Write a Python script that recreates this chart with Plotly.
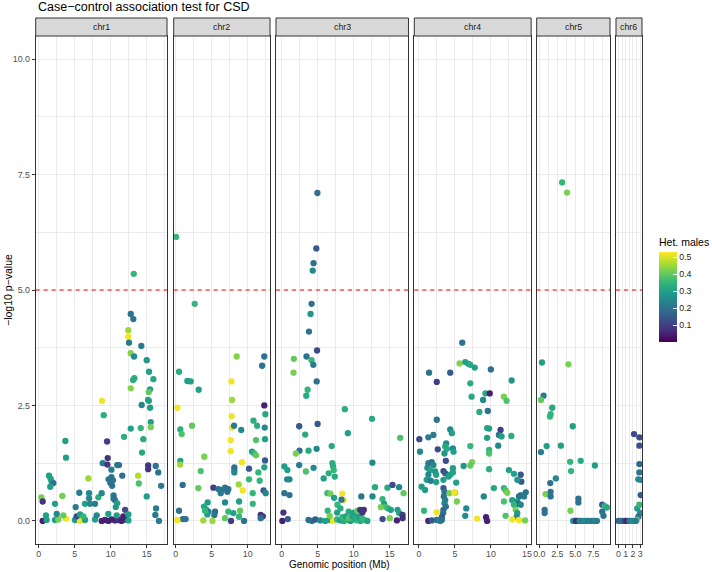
import plotly.graph_objects as go

# ---------------- data ----------------
chromosomes = ["chr1", "chr2", "chr3", "chr4", "chr5", "chr6"]

chr1_pos = [13.2, 12.78, 13.14, 12.44, 12.44, 12.54, 14.25, 12.78, 13.24, 15.0, 15.32, 15.92, 13.28, 13.1,
            12.78, 15.46, 15.28, 15.18, 15.3, 8.79, 14.3, 15.46, 9.03, 15.56, 12.78, 14.17, 15.56, 11.85,
            14.53, 3.7, 9.49, 14.35, 3.79, 9.58, 8.89, 9.53, 10.9, 11.15, 15.2, 15.2, 16.25, 16.6, 10.1,
            11.6, 13.8, 1.43, 1.66, 1.8, 2.03, 1.6, 6.9, 10.1, 10.3, 9.95, 10.2, 9.7, 13.9, 17.0, 0.37,
            0.55, 2.26, 3.28, 5.64, 6.99, 6.99, 8.28, 8.75, 6.43, 7.13, 7.82, 5.13, 10.4, 10.6, 10.9, 10.7,
            10.4, 12.0, 16.3, 16.2, 16.7, 15.0,
            0.55, 1.1, 2.26, 2.73, 3.79, 5.04, 5.74, 6.43, 7.82, 8.75, 9.2, 9.67, 10.13, 10.6, 11.06, 11.5,
            12.0, 12.45,
            1.0, 2.5, 3.42, 5.27, 5.74, 6.2, 8.05, 9.67, 10.83, 11.75, 12.45]
chr1_logp = [5.35, 4.48, 4.37, 4.13, 3.99, 3.86, 3.79, 3.63, 3.56, 3.48, 3.23, 3.07, 3.09, 3.05,
             2.87, 2.85, 2.79, 2.62, 2.6, 2.6, 2.51, 2.45, 2.29, 2.14, 2.0, 2.01, 2.03, 1.82,
             1.77, 1.73, 1.72, 1.48, 1.37, 1.36, 1.25, 1.22, 1.21, 1.21, 1.2, 1.12, 1.19, 1.05, 1.11,
             0.98, 0.98, 0.98, 0.91, 0.85, 0.82, 0.74, 0.92, 0.95, 0.88, 0.82, 0.76, 0.9, 0.81, 0.76, 0.51,
             0.42, 0.37, 0.54, 0.61, 0.6, 0.49, 0.51, 0.6, 0.37, 0.37, 0.37, 0.3, 0.55, 0.45, 0.38, 0.3,
             0.48, 0.24, 0.27, 0.13, 0.0, 0.53,
             0.0, 0.02, 0.02, 0.03, 0.05, 0.02, 0.0, 0.02, 0.03, 0.0, 0.02, 0.0, 0.03, 0.01, 0.02, 0.0,
             0.03, 0.01,
             0.12, 0.15, 0.12, 0.1, 0.14, 0.1, 0.12, 0.15, 0.12, 0.1, 0.14]
chr1_het = [0.35, 0.2, 0.2, 0.45, 0.52, 0.22, 0.22, 0.43, 0.25, 0.28, 0.3, 0.32, 0.33, 0.33,
            0.43, 0.3, 0.4, 0.3, 0.3, 0.52, 0.25, 0.3, 0.33, 0.3, 0.3, 0.35, 0.42, 0.33,
            0.32, 0.3, 0.1, 0.32, 0.3, 0.08, 0.22, 0.08, 0.2, 0.2, 0.08, 0.08, 0.2, 0.2, 0.22,
            0.2, 0.47, 0.3, 0.3, 0.3, 0.2, 0.3, 0.45, 0.2, 0.2, 0.2, 0.2, 0.2, 0.38, 0.22, 0.42,
            0.08, 0.3, 0.42, 0.22, 0.25, 0.25, 0.33, 0.25, 0.3, 0.25, 0.22, 0.22, 0.22, 0.25, 0.3, 0.28,
            0.2, 0.12, 0.22, 0.22, 0.22, 0.3,
            0.05, 0.3, 0.3, 0.42, 0.52, 0.28, 0.52, 0.3, 0.3, 0.05, 0.05, 0.05, 0.05, 0.05, 0.08, 0.05,
            0.05, 0.3,
            0.3, 0.25, 0.4, 0.12, 0.3, 0.35, 0.25, 0.3, 0.3, 0.05, 0.3]

chr2_pos = [0.04, 2.64, 8.47, 12.3, 12.0, 0.46, 1.62, 2.08, 7.73, 3.19, 7.82, 0.23, 12.3, 12.45, 7.77,
            10.8, 0.64, 2.26, 0.83, 7.82, 8.1, 9.1, 11.3, 12.36, 7.63, 11.15, 12.4, 7.63, 10.6, 10.9,
            11.15, 12.4, 3.97, 0.64, 0.6, 9.2, 12.3, 3.47, 8.14, 8.14, 8.14, 10.18, 11.48, 10.18, 11.66,
            8.75, 0.97, 3.14, 5.23, 5.92, 6.38, 6.85, 7.31, 6.25, 7.17, 9.3, 10.7, 12.2, 12.5, 6.85, 8.8,
            10.7, 4.44, 3.93, 4.2, 4.53, 5.46, 5.37, 4.39, 4.07, 7.31, 8.0, 8.93, 8.79, 7.68, 9.49, 6.85,
            0.46, 0.97, 1.38, 0.23, 3.83, 5.1, 11.8, 12.1, 11.8]
chr2_logp = [6.15, 4.7, 3.56, 3.56, 3.36, 3.23, 3.03, 3.02, 3.02, 2.84, 2.62, 2.45, 2.5, 2.31, 2.27,
             2.17, 1.98, 2.06, 1.88, 2.02, 2.06, 1.97, 2.06, 2.02, 1.75, 1.75, 1.77, 1.51, 1.5, 1.46,
             1.42, 1.31, 1.39, 1.3, 1.22, 1.27, 1.16, 1.08, 1.16, 1.1, 1.05, 1.13, 1.05, 0.9, 0.87,
             0.79, 0.78, 0.71, 0.72, 0.69, 0.67, 0.72, 0.69, 0.6, 0.63, 0.66, 0.6, 0.66, 0.6, 0.4, 0.42,
             0.37, 0.4, 0.31, 0.25, 0.2, 0.2, 0.13, 0.14, 0.22, 0.2, 0.17, 0.22, 0.09, 0.0, 0.0, 0.06,
             0.22, 0.04, 0.04, 0.02, 0.01, 0.0, 0.13, 0.1, 0.06]
chr2_het = [0.35, 0.35, 0.43, 0.2, 0.2, 0.33, 0.3, 0.3, 0.52, 0.3, 0.45, 0.52, 0.05, 0.32, 0.52,
            0.33, 0.33, 0.4, 0.38, 0.52, 0.22, 0.25, 0.33, 0.25, 0.52, 0.38, 0.3, 0.52, 0.3, 0.35,
            0.4, 0.15, 0.42, 0.3, 0.45, 0.52, 0.3, 0.38, 0.2, 0.2, 0.25, 0.15, 0.35, 0.35, 0.35,
            0.45, 0.2, 0.4, 0.1, 0.2, 0.22, 0.2, 0.2, 0.22, 0.2, 0.52, 0.35, 0.15, 0.25, 0.25, 0.3,
            0.35, 0.3, 0.32, 0.3, 0.22, 0.18, 0.2, 0.3, 0.35, 0.35, 0.3, 0.4, 0.35, 0.1, 0.2, 0.4,
            0.2, 0.2, 0.2, 0.52, 0.45, 0.45, 0.08, 0.1, 0.2]

chr3_pos = [4.95, 4.8, 4.42, 4.3, 4.14, 4.0, 3.78, 4.9, 1.68, 3.44, 4.14, 4.38, 1.63, 4.85, 3.59, 3.4,
            8.76, 12.53, 2.42, 4.98, 9.18, 3.26, 16.45, 6.94, 2.46, 3.72, 4.84, 1.96, 2.42, 0.36, 0.78,
            4.42, 3.35, 7.03, 7.13, 7.22, 7.36, 6.52, 5.82, 12.59, 0.74, 1.07, 6.34, 6.76, 8.4, 8.58,
            8.3, 7.27, 0.36, 1.07, 11.05, 12.6, 12.95, 14.68, 15.38, 16.3, 16.92, 13.99, 14.22, 14.45,
            14.77, 15.15, 13.75, 16.08, 16.31, 15.0, 15.99, 16.78, 16.78, 7.73, 8.15, 7.69,
            3.72, 4.19, 4.66, 5.35, 6.05, 6.66, 7.13, 7.69, 8.15, 8.62, 9.09, 9.55, 10.02, 10.48, 10.95,
            11.41, 11.88, 8.4, 8.9, 9.3, 9.8, 10.2, 10.7, 11.2, 9.3, 10.0, 10.5,
            6.38, 6.66, 10.9, 11.4, 11.2, 0.23, 0.08, 0.84, 14.0]
chr3_logp = [7.1, 5.9, 5.58, 5.42, 4.7, 4.48, 4.1, 3.69, 3.51, 3.56, 3.48, 3.38, 3.21, 3.02, 2.84, 2.71,
             2.42, 2.21, 2.05, 2.1, 1.9, 1.87, 1.8, 1.62, 1.52, 1.52, 1.56, 1.46, 1.21, 1.18, 1.1,
             1.15, 1.07, 1.25, 1.18, 1.1, 0.96, 1.03, 0.92, 1.26, 0.9, 0.9, 0.6, 0.59, 0.59, 0.45,
             0.46, 0.5, 0.6, 0.56, 0.53, 0.53, 0.73, 0.72, 0.78, 0.73, 0.6, 0.47, 0.37, 0.3,
             0.27, 0.24, 0.3, 0.24, 0.17, 0.06, 0.01, 0.13, 0.06, 0.35, 0.27, 0.18,
             0.02, 0.0, 0.03, 0.01, 0.0, 0.02, 0.0, 0.03, 0.01, 0.0, 0.02, 0.0, 0.03, 0.01, 0.0,
             0.02, 0.0, 0.08, 0.1, 0.06, 0.1, 0.07, 0.1, 0.05, 0.2, 0.18, 0.22,
             0.22, 0.11, 0.24, 0.24, 0.18, 0.18, 0.0, 0.04, 0.04]
chr3_het = [0.2, 0.15, 0.2, 0.25, 0.2, 0.28, 0.2, 0.12, 0.4, 0.2, 0.35, 0.22, 0.42, 0.2, 0.35, 0.32,
            0.33, 0.32, 0.15, 0.15, 0.3, 0.32, 0.38, 0.32, 0.2, 0.32, 0.25, 0.42, 0.22, 0.3, 0.3,
            0.25, 0.38, 0.33, 0.33, 0.35, 0.32, 0.33, 0.3, 0.25, 0.25, 0.25, 0.35, 0.42, 0.52, 0.52,
            0.2, 0.3, 0.2, 0.2, 0.2, 0.25, 0.32, 0.32, 0.12, 0.25, 0.4, 0.35, 0.3, 0.38,
            0.35, 0.3, 0.42, 0.3, 0.3, 0.42, 0.05, 0.1, 0.08, 0.35, 0.33, 0.3,
            0.2, 0.2, 0.15, 0.25, 0.3, 0.3, 0.52, 0.35, 0.3, 0.32, 0.35, 0.3, 0.33, 0.35, 0.32,
            0.35, 0.3, 0.35, 0.3, 0.38, 0.3, 0.32, 0.3, 0.35, 0.32, 0.3, 0.4,
            0.35, 0.42, 0.08, 0.08, 0.08, 0.08, 0.05, 0.15, 0.12]

chr4_pos = [6.01, 5.64, 6.43, 6.9, 7.13, 7.74, 1.4, 4.34, 9.98, 2.47, 12.87, 7.13, 9.23, 9.83, 7.31, 8.9,
            11.79, 12.17, 8.39, 9.56, 2.47, 9.46, 9.74, 11.33, 11.1, 11.47, 0.05, 1.3, 2.0, 4.34, 4.57,
            12.82, 9.46, 3.78, 3.64, 3.87, 3.54, 4.71, 4.8, 2.61, 7.13, 11.0, 0.14, 9.74, 9.74, 3.73,
            7.37, 7.13, 6.2, 1.31, 1.77, 2.0, 1.17, 1.54, 2.24, 1.31, 1.07, 1.63, 2.38, 2.38,
            3.4, 3.64, 4.34, 4.71, 4.71, 3.4, 4.1, 9.74, 12.49, 13.19, 14.13, 14.22, 13.66, 5.17, 10.4,
            11.79, 12.03, 12.27, 14.83, 14.13, 13.89, 12.96, 13.66, 14.59, 13.75, 0.7, 0.37, 0.84,
            3.4, 3.54, 3.45, 3.64, 3.54, 3.73, 3.4, 3.36, 3.17, 4.24, 5.03, 5.27, 4.9, 6.57, 6.43, 9.0,
            11.8, 12.03, 13.19, 13.43, 13.66, 13.57, 14.13,
            1.3, 1.77, 2.47, 2.94, 3.17, 8.07, 9.32, 9.46, 12.96, 13.89, 14.73, 2.47]
chr4_logp = [3.86, 3.41, 3.44, 3.4, 3.38, 3.32, 3.21, 3.21, 3.28, 3.01, 3.04, 2.98, 2.76, 2.76, 2.69, 2.62,
             2.69, 2.6, 2.36, 2.38, 2.19, 2.01, 2.0, 1.97, 1.86, 1.83, 1.77, 1.81, 1.86, 1.98, 1.9,
             1.84, 1.8, 1.68, 1.61, 1.56, 1.46, 1.57, 1.5, 1.55, 1.62, 1.63, 1.5, 1.54, 1.46, 1.3,
             1.27, 1.2, 1.19, 1.25, 1.27, 1.21, 1.15, 1.1, 1.07, 1.0, 0.89, 0.87, 1.0, 0.84,
             1.08, 1.03, 1.0, 1.14, 1.05, 0.89, 0.96, 1.12, 1.1, 1.02, 1.0, 0.85, 0.89, 0.83, 0.71,
             0.71, 0.66, 0.61, 0.62, 0.56, 0.53, 0.45, 0.42, 0.53, 0.37, 0.22, 0.74, 0.67,
             0.71, 0.63, 0.53, 0.45, 0.38, 0.31, 0.24, 0.17, 0.08, 0.6, 0.61, 0.42, 0.62, 0.27, 0.11, 0.53,
             0.42, 0.11, 0.35, 0.24, 0.17, 0.09, 0.35,
             0.0, 0.01, 0.02, 0.0, 0.02, 0.05, 0.08, 0.0, 0.03, 0.02, 0.01, 0.19]
chr4_het = [0.2, 0.43, 0.3, 0.3, 0.32, 0.3, 0.2, 0.15, 0.2, 0.1, 0.28, 0.33, 0.32, 0.05, 0.32, 0.25,
            0.42, 0.38, 0.32, 0.2, 0.2, 0.32, 0.3, 0.1, 0.2, 0.3, 0.12, 0.22, 0.22, 0.25, 0.3,
            0.33, 0.3, 0.25, 0.32, 0.32, 0.28, 0.25, 0.3, 0.12, 0.35, 0.25, 0.25, 0.35, 0.38, 0.12,
            0.42, 0.4, 0.28, 0.22, 0.2, 0.25, 0.25, 0.3, 0.28, 0.25, 0.3, 0.22, 0.3, 0.3,
            0.12, 0.15, 0.3, 0.3, 0.3, 0.3, 0.3, 0.33, 0.3, 0.3, 0.15, 0.15, 0.28, 0.3, 0.32,
            0.35, 0.38, 0.42, 0.2, 0.25, 0.2, 0.3, 0.28, 0.22, 0.15, 0.35, 0.3, 0.3,
            0.15, 0.2, 0.2, 0.22, 0.25, 0.2, 0.18, 0.2, 0.15, 0.42, 0.45, 0.42, 0.52, 0.25, 0.25, 0.25,
            0.38, 0.38, 0.35, 0.42, 0.3, 0.25, 0.25,
            0.05, 0.15, 0.2, 0.25, 0.2, 0.52, 0.05, 0.05, 0.52, 0.52, 0.42, 0.52]

chr5_pos = [3.17, 3.86, 0.37, 4.05, 0.6, 0.23, 1.8, 1.57, 1.48, 4.65, 1.02, 3.0, 0.23, 4.28, 5.75, 4.41,
            7.72, 2.3, 1.52, 0.88, 1.57, 1.57, 0.74, 0.74, 5.43, 5.43, 4.33, 8.74, 9.1, 9.38, 8.74, 8.92,
            4.7, 4.9, 5.1, 5.4, 5.6, 5.9, 6.2, 6.5, 6.8, 7.1, 7.4, 7.7, 8.0]
chr5_logp = [7.33, 7.11, 3.43, 3.39, 2.71, 2.62, 2.45, 2.31, 2.26, 2.05, 1.62, 1.63, 1.49, 1.28, 1.3, 1.08,
             1.2, 0.92, 0.82, 0.58, 0.63, 0.53, 0.24, 0.17, 0.48, 0.4, 0.22, 0.35, 0.32, 0.29, 0.2, 0.11,
             0.0, 0.0, 0.0, 0.0, 0.0, 0.0, 0.0, 0.0, 0.0, 0.0, 0.0, 0.0, 0.0]
chr5_het = [0.35, 0.42, 0.3, 0.42, 0.22, 0.4, 0.32, 0.35, 0.35, 0.3, 0.3, 0.3, 0.22, 0.35, 0.32, 0.35,
            0.3, 0.25, 0.2, 0.42, 0.2, 0.2, 0.2, 0.2, 0.2, 0.2, 0.42, 0.15, 0.35, 0.32, 0.2, 0.2,
            0.3, 0.25, 0.08, 0.05, 0.25, 0.22, 0.25, 0.25, 0.22, 0.25, 0.2, 0.25, 0.22]

chr6_pos = [2.15, 2.9, 2.9, 2.9, 2.9, 2.75, 3.08, 3.08, 2.6, 2.9, 3.0, 2.75, 2.53,
            0.0, 0.3, 0.6, 0.9, 1.2, 1.5, 1.8, 2.1, 2.4]
chr6_logp = [1.88, 1.81, 1.63, 1.23, 1.05, 0.9, 0.89, 0.56, 0.27, 0.35, 0.17, 0.09, 0.02,
             0.0, 0.0, 0.0, 0.0, 0.0, 0.0, 0.0, 0.0, 0.0]
chr6_het = [0.12, 0.12, 0.13, 0.18, 0.2, 0.25, 0.25, 0.15, 0.3, 0.35, 0.25, 0.2, 0.42,
            0.15, 0.2, 0.2, 0.1, 0.05, 0.2, 0.25, 0.25, 0.22]

threshold = 5.0
y_ticks = [0.0, 2.5, 5.0, 7.5, 10.0]
legend_ticks = [0.1, 0.2, 0.3, 0.4, 0.5]

# ---------------- layout helpers ----------------
W, H = 712, 572
PX_PER_MB = 7.2
def fx(p): return p / W
def fy(p): return 1 - p / H

panels = [  # (left pixel, x range, major dtick, minor dtick, tick format)
    (35.7, [-0.42, 17.82], 5, 2.5, "d"),
    (173.7, [-0.28, 13.1], 5, 2.5, "d"),
    (276.0, [-0.8, 17.6], 5, 2.5, "d"),
    (414.3, [-0.65, 15.58], 5, 2.5, "d"),
    (536.7, [-0.36, 9.82], 2.5, 1.25, ".1f"),
    (616.0, [-0.35, 3.26], 1, 0.5, "d"),
]
series = [(chr1_pos, chr1_logp, chr1_het), (chr2_pos, chr2_logp, chr2_het),
          (chr3_pos, chr3_logp, chr3_het), (chr4_pos, chr4_logp, chr4_het),
          (chr5_pos, chr5_logp, chr5_het), (chr6_pos, chr6_logp, chr6_het)]

PANEL_TOP, PANEL_BOTTOM = 36, 544
STRIP_TOP = 18
FONT = "Liberation Sans"
GRID = "#EBEBEB"
BORDER = "#333333"

fig = go.Figure()
shapes, annotations = [], []
layout = {}
ydom = [fy(PANEL_BOTTOM), fy(PANEL_TOP)]

for i, (name, (left, rng, dt, mdt, fmt), (xs, ys, hs)) in enumerate(zip(chromosomes, panels, series)):
    s = "" if i == 0 else str(i + 1)
    right = left + (rng[1] - rng[0]) * PX_PER_MB
    fig.add_trace(go.Scatter(
        x=xs, y=ys, mode="markers", xaxis="x" + s, yaxis="y" + s, showlegend=False,
        marker=dict(color=hs, coloraxis="coloraxis", size=6.3, line=dict(width=0)),
        hoverinfo="skip"))
    layout["xaxis" + s] = dict(
        domain=[fx(left), fx(right)], range=rng, anchor="y" + s, automargin=False,
        dtick=dt, tick0=0, tickformat=fmt,
        showgrid=True, gridcolor=GRID, gridwidth=1,
        minor=dict(dtick=mdt, tick0=0, showgrid=True, gridcolor=GRID, gridwidth=0.5),
        zeroline=False, showline=True, mirror=True, linecolor=BORDER, linewidth=1,
        ticks="outside", ticklen=3, tickcolor=BORDER, tickwidth=1, ticklabelstandoff=-2,
        tickfont=dict(size=8.8, color="#4D4D4D", family=FONT))
    ydict = dict(
        domain=ydom, range=[-0.5, 10.5], anchor="x" + s, automargin=False,
        showgrid=True, gridcolor=GRID, gridwidth=1,
        minor=dict(dtick=1.25, tick0=0, showgrid=True, gridcolor=GRID, gridwidth=0.5),
        zeroline=False, showline=True, mirror=True, linecolor=BORDER, linewidth=1,
        tickvals=y_ticks)
    if i == 0:
        ydict.update(ticktext=[f"{v:.1f}" for v in y_ticks], ticks="outside", ticklen=3,
                     tickcolor=BORDER, tickwidth=1,
                     tickfont=dict(size=8.8, color="#4D4D4D", family=FONT))
    else:
        ydict.update(showticklabels=False, ticks="", matches="y")
    layout["yaxis" + s] = ydict

    # threshold line
    shapes.append(dict(type="line", xref=f"x{s} domain", x0=0, x1=1, yref="y" + s,
                       y0=threshold, y1=threshold, layer="above",
                       line=dict(color="#FF0000", width=1, dash="4px,4px")))
    # strip
    shapes.append(dict(type="rect", xref="paper", yref="paper", x0=fx(left), x1=fx(right),
                       y0=fy(PANEL_TOP), y1=fy(STRIP_TOP), fillcolor="#D9D9D9",
                       line=dict(color=BORDER, width=1), layer="above"))
    annotations.append(dict(text=name, xref="paper", yref="paper", x=fx((left + right) / 2),
                            y=fy((STRIP_TOP + PANEL_TOP) / 2), showarrow=False,
                            xanchor="center", yanchor="middle",
                            font=dict(size=8.8, color="#1A1A1A", family=FONT)))

annotations += [
    dict(text="Case\u2212control association test for CSD", xref="paper", yref="paper",
         x=fx(36), y=fy(7), xanchor="left", yanchor="middle", showarrow=False,
         font=dict(size=12.5, color="#000000", family=FONT)),
    dict(text="\u2212log10 p\u2212value", xref="paper", yref="paper", x=fx(8), y=fy(290),
         textangle=-90, xanchor="center", yanchor="middle", showarrow=False,
         font=dict(size=10.5, color="#000000", family=FONT)),
    dict(text="Genomic position (Mb)", xref="paper", yref="paper", x=fx(339), y=fy(564),
         xanchor="center", yanchor="middle", showarrow=False,
         font=dict(size=10, color="#000000", family=FONT)),
]

fig.update_layout(
    **layout,
    width=W, height=H, margin=dict(l=0, r=0, t=0, b=0, autoexpand=False),
    paper_bgcolor="white", plot_bgcolor="white",
    font=dict(family=FONT),
    shapes=shapes, annotations=annotations,
    coloraxis=dict(
        colorscale="Viridis", cmin=0.0, cmax=0.53,
        colorbar=dict(
            x=fx(659), xanchor="left", xpad=0, y=fy(342), yanchor="bottom", ypad=0,
            thickness=18, lenmode="pixels", len=107, outlinewidth=0,
            title=dict(text="Het. males", side="top", font=dict(size=10.5, color="#000000", family=FONT)),
            tickvals=legend_ticks, ticktext=[f"{v:.1f}" for v in legend_ticks],
            ticks="inside", ticklen=4, tickcolor="white", tickwidth=1,
            tickfont=dict(size=8.8, color="#1A1A1A", family=FONT))),
)

fig.write_html("out.html", config={"displayModeBar": False},
               post_script="document.body.style.margin='0px';document.body.style.overflow='hidden';")
